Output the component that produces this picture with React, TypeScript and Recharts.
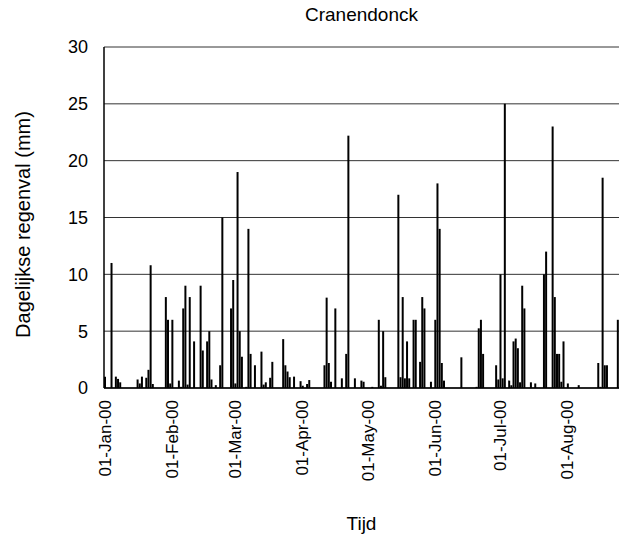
import React from 'react';
import { BarChart, Bar, XAxis, YAxis, CartesianGrid } from 'recharts';

// Daily rainfall at Cranendonck, 2000 (mm per day, index = day of month - 1)
const monthNames = ['Jan', 'Feb', 'Mar', 'Apr', 'May', 'Jun', 'Jul', 'Aug'];

const jan = [1.0, 0, 0, 11.0, 0, 1.0, 0.8, 0.5, 0, 0, 0, 0, 0, 0, 0, 0.75, 0.4, 1.0, 0, 0.9, 1.6, 10.8, 0.35, 0, 0, 0, 0, 0, 8.0, 6.0, 0.4];
const feb = [6.0, 0, 0, 0.65, 0.1, 7.0, 9.0, 0.3, 8.0, 0, 4.1, 0, 0, 9.0, 3.3, 0, 4.1, 5.0, 0.75, 0, 0.25, 0, 2.0, 15.0, 0, 0, 0, 7.0, 9.5];
const mar = [0.4, 19.0, 5.0, 2.75, 0, 0.1, 14.0, 3.0, 0, 2.0, 0, 0, 3.2, 0.3, 0.5, 0, 0.9, 2.3, 0, 0, 0, 0, 4.3, 2.0, 1.45, 0.95, 0, 1.0, 0, 0, 0.6];
const apr = [0.2, 0, 0.35, 0.7, 0, 0, 0, 0, 0, 0, 2.0, 7.95, 2.2, 0.55, 0, 7.0, 0, 0, 0.85, 0, 3.0, 22.2, 0, 0, 0.85, 0, 0, 0.65, 0.55, 0];
const may = [0, 0, 0.1, 0, 0, 6.0, 0.2, 5.0, 0.95, 0, 0, 0, 0, 0, 17.0, 0.95, 8.0, 0.85, 4.1, 0.85, 0, 6.0, 6.0, 0, 2.3, 8.0, 7.0, 0, 0, 0.55, 0];
const jun = [6.0, 18.0, 14.0, 2.2, 0.65, 0, 0, 0, 0, 0, 0, 0, 2.7, 0, 0, 0, 0, 0, 0, 0.1, 5.25, 6.0, 3.0, 0, 0, 0, 0, 0, 2.0, 0.75];
const jul = [10.0, 0.85, 25.0, 0, 0.65, 0.25, 4.1, 4.35, 3.5, 0.5, 9.0, 7.0, 0, 0, 0.5, 0, 0.4, 0, 0, 0, 10.0, 12.0, 0, 0, 23.0, 8.0, 3.0, 3.0, 0.55, 4.1, 0];
const aug = [0.4, 0, 0, 0, 0, 0.25, 0, 0, 0, 0, 0, 0, 0, 0, 2.2, 0.1, 18.5, 2.0, 2.0, 0, 0, 0, 0, 6.0];

const monthlyRain = [jan, feb, mar, apr, may, jun, jul, aug];
const yTicks = [0, 5, 10, 15, 20, 25, 30];

const data = monthlyRain.flatMap((days, m) =>
  days.map((rain, i) => ({
    date: `${String(i + 1).padStart(2, '0')}-${monthNames[m]}-00`,
    rain,
  }))
);
const monthStarts = monthNames.map((m) => `01-${m}-00`);

const W = 619;
const H = 538;
const TOP = 47;
const Y_AXIS_W = 104;
const X_AXIS_H = 150;
const PLOT_W = W - Y_AXIS_W;
const PLOT_H = H - TOP - X_AXIS_H;
const FONT = '"Liberation Sans", Arial, sans-serif';

const MonthTick = (props: any) => {
  const { x, y, payload } = props;
  return (
    <text
      x={x}
      y={y}
      transform={`rotate(-90, ${x}, ${y})`}
      textAnchor="end"
      dominantBaseline="central"
      fontFamily={FONT}
      fontSize={17}
      fill="#000"
    >
      {payload.value}
    </text>
  );
};

export default function App() {
  const yLabelX = 23;
  const yLabelY = TOP + PLOT_H / 2 + 7;
  return (
    <div style={{ position: 'absolute', left: 0, top: 0, width: W, height: H, background: '#fff' }}>
      <svg width={W} height={30} style={{ position: 'absolute', left: 0, top: 0 }}>
        <text
          x={Y_AXIS_W + PLOT_W / 2}
          y={14}
          textAnchor="middle"
          dominantBaseline="central"
          fontFamily={FONT}
          fontSize={19}
          fill="#000"
        >
          Cranendonck
        </text>
      </svg>
      <BarChart
        width={W}
        height={H}
        data={data}
        margin={{ top: TOP, right: 0, bottom: 0, left: 0 }}
        barSize={2}
      >
        <CartesianGrid vertical={false} stroke="#333" strokeWidth={1} />
        <XAxis
          dataKey="date"
          type="category"
          ticks={monthStarts}
          interval={0}
          height={X_AXIS_H}
          tick={<MonthTick />}
          tickLine={false}
          tickSize={6}
          tickMargin={6}
          axisLine={{ stroke: '#000', strokeWidth: 1.5 }}
          label={{
            content: () => (
              <text
                x={Y_AXIS_W + PLOT_W / 2}
                y={TOP + PLOT_H + 135}
                textAnchor="middle"
                dominantBaseline="central"
                fontFamily={FONT}
                fontSize={19}
                fill="#000"
              >
                Tijd
              </text>
            ),
          }}
        />
        <YAxis
          width={Y_AXIS_W}
          domain={[0, 30]}
          ticks={yTicks}
          interval={0}
          tickLine={false}
          tickSize={6}
          tickMargin={10}
          axisLine={{ stroke: '#000', strokeWidth: 1.5 }}
          tick={{ fill: '#000', fontSize: 18, fontFamily: FONT }}
          label={{
            content: () => (
              <text
                x={yLabelX}
                y={yLabelY}
                transform={`rotate(-90, ${yLabelX}, ${yLabelY})`}
                textAnchor="middle"
                dominantBaseline="central"
                fontFamily={FONT}
                fontSize={20}
                fill="#000"
              >
                Dagelijkse regenval (mm)
              </text>
            ),
          }}
        />
        <Bar dataKey="rain" fill="#000" isAnimationActive={false} />
      </BarChart>
    </div>
  );
}
